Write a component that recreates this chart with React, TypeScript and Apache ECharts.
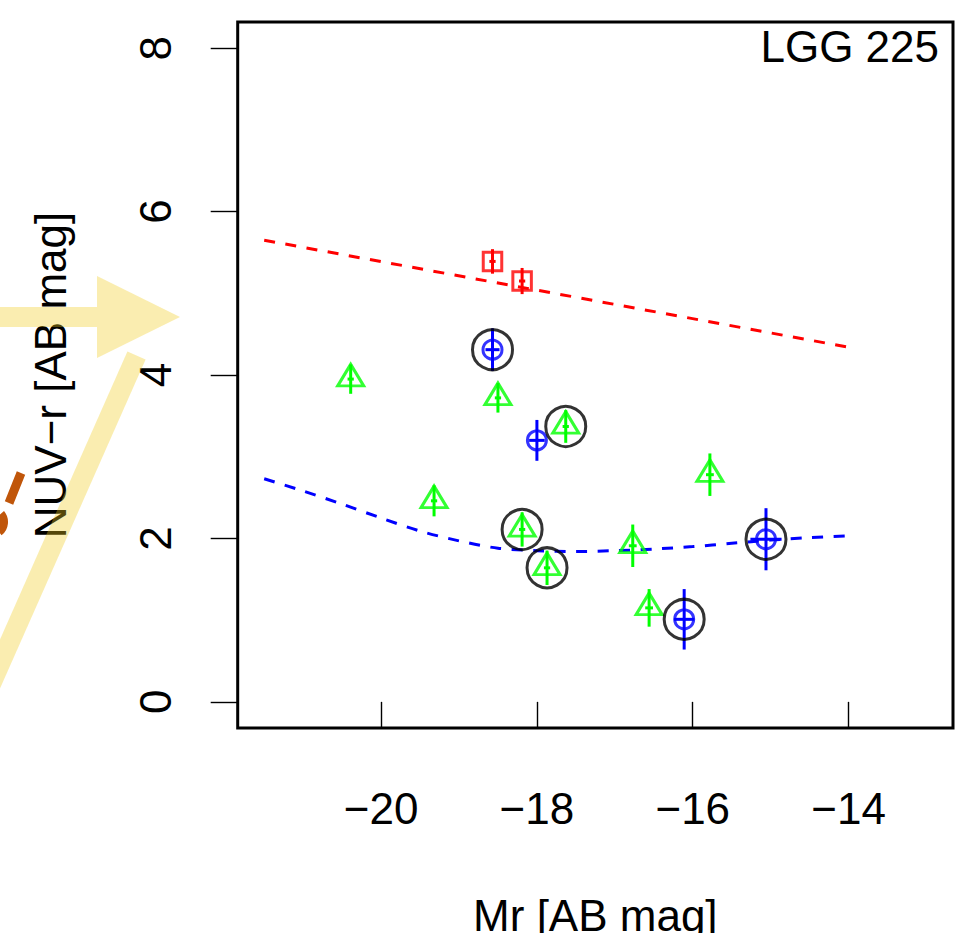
import React, { useEffect, useRef } from "react";
import * as echarts from "echarts";

// ---- data ----
const xTicks = [-20, -18, -16, -14];
const yTicks = [0, 2, 4, 6, 8];

const redX = [-18.57, -18.19];
const redY = [5.39, 5.15];
const redErrX = [0.04, 0.04];
const redErrY = [0.15, 0.16];

const blueX = [-18.57, -18.0, -16.11, -15.06];
const blueY = [4.31, 3.2, 1.01, 1.99];
const blueErrX = [0.09, 0.1, 0.13, 0.2];
const blueErrY = [0.26, 0.25, 0.37, 0.38];

const greenX = [-20.39, -18.5, -17.63, -19.32, -18.19, -17.87, -16.77, -16.56, -15.78];
const greenY = [3.95, 3.72, 3.37, 2.46, 2.11, 1.64, 1.91, 1.15, 2.78];
const greenErrX = [0.04, 0.04, 0.04, 0.04, 0.04, 0.04, 0.05, 0.05, 0.05];
const greenErrY = [0.18, 0.18, 0.2, 0.19, 0.21, 0.21, 0.26, 0.23, 0.26];

const circledX = [-18.57, -16.11, -15.06, -17.63, -18.19, -17.87];
const circledY = [4.31, 1.01, 1.99, 3.37, 2.11, 1.64];

const redLineX = [-21.5, -14.0];
const redLineY = [5.65, 4.34];

const blueLineX = [-21.5, -21.0, -20.5, -20.0, -19.5, -19.0, -18.5, -18.0, -17.5, -17.0, -16.5, -16.0, -15.5, -15.0, -14.5, -14.0];
const blueLineY = [2.73, 2.58, 2.42, 2.25, 2.09, 1.97, 1.88, 1.85, 1.84, 1.85, 1.87, 1.9, 1.94, 1.98, 2.01, 2.03];

const RED = "#FF0000";
const BLUE = "#0000FF";
const GREEN = "#00FF00";
const FONT = "Liberation Sans";
const LW = 3;

const fmt = (v: number) => (v < 0 ? "\u2212" : "") + Math.abs(v);

function errSeries(xs: number[], ys: number[], ex: number[], ey: number[], color: string) {
  return {
    type: "custom",
    encode: { x: 0, y: 1 },
    data: xs.map((x, i) => [x, ys[i], ex[i], ey[i]]),
    z: 3,
    renderItem: (params: any, api: any) => {
      const x = api.value(0);
      const y = api.value(1);
      const dx = api.value(2);
      const dy = api.value(3);
      const a = api.coord([x, y - dy]);
      const b = api.coord([x, y + dy]);
      const c = api.coord([x - dx, y]);
      const d = api.coord([x + dx, y]);
      return {
        type: "group",
        children: [
          { type: "line", shape: { x1: a[0], y1: a[1], x2: b[0], y2: b[1] }, style: { stroke: color, lineWidth: LW } },
          { type: "line", shape: { x1: c[0], y1: c[1], x2: d[0], y2: d[1] }, style: { stroke: color, lineWidth: LW } },
        ],
      };
    },
  };
}

export default function App() {
  const ref = useRef<HTMLDivElement>(null);
  useEffect(() => {
    if (!ref.current) return;
    const chart = echarts.init(ref.current, null, { renderer: "svg" });
    const yellow = { fill: "rgb(241,204,29)", opacity: 0.35 };
    chart.setOption({
      animation: false,
      backgroundColor: "#fff",
      title: {
        text: "LGG 225",
        right: 12,
        top: 19,
        textStyle: { fontFamily: FONT, fontSize: 44, fontWeight: "normal", color: "#000" },
      },
      grid: {
        left: 237.7,
        top: 22,
        right: 3,
        bottom: 205,
        outerBoundsMode: "none",
        containLabel: false,
        show: true,
        borderColor: "#000",
        borderWidth: LW,
        backgroundColor: "transparent",
      },
      xAxis: {
        type: "value",
        min: -21.84,
        max: -12.66,
        name: "Mr [AB mag]",
        nameLocation: "middle",
        nameGap: 165,
        nameTextStyle: { fontFamily: FONT, fontSize: 44, color: "#000" },
        axisLine: { show: false },
        splitLine: { show: false },
        axisTick: { show: true, customValues: xTicks, length: 27, lineStyle: { color: "#000", width: 1.4 } },
        axisLabel: { customValues: xTicks, formatter: fmt, fontFamily: FONT, fontSize: 44, color: "#000", margin: 58 },
      },
      yAxis: {
        type: "value",
        min: -0.32,
        max: 8.32,
        name: "NUV\u2212r [AB mag]",
        nameLocation: "middle",
        nameGap: 165,
        nameRotate: 90,
        nameTextStyle: { fontFamily: FONT, fontSize: 44, color: "#000" },
        axisLine: { show: false },
        splitLine: { show: false },
        axisTick: { show: true, customValues: yTicks, length: 27, lineStyle: { color: "#000", width: 1.4 } },
        axisLabel: { customValues: yTicks, formatter: fmt, rotate: 90, fontFamily: FONT, fontSize: 44, color: "#000", margin: 60 },
      },
      graphic: [
        { type: "rect", z: 100, shape: { x: -10, y: 307, width: 107, height: 20 }, style: yellow },
        { type: "polygon", z: 100, shape: { points: [[97, 276], [180, 317], [97, 358]] }, style: yellow },
        { type: "polygon", z: 100, shape: { points: [[127.4, 351.5], [145.6, 359.6], [-33.4, 764], [-51.6, 756]] }, style: yellow },
        { type: "line", z: 99, shape: { x1: 21, y1: 473, x2: 9, y2: 503 }, style: { stroke: "#C0560A", lineWidth: 9 } },
        { type: "arc", z: 99, shape: { cx: -9, cy: 522, r: 13, startAngle: -0.7, endAngle: 0.9 }, style: { stroke: "#C0560A", lineWidth: 8, fill: "none" } },
      ],
      series: [
        {
          type: "line",
          data: redLineX.map((x, i) => [x, redLineY[i]]),
          symbol: "none",
          lineStyle: { color: RED, width: 3, type: [11, 10.5] },
          z: 2,
        },
        {
          type: "line",
          data: blueLineX.map((x, i) => [x, blueLineY[i]]),
          symbol: "none",
          smooth: 0.3,
          lineStyle: { color: BLUE, width: 3, type: [11, 10.5] },
          z: 2,
        },
        errSeries(redX, redY, redErrX, redErrY, RED),
        errSeries(blueX, blueY, blueErrX, blueErrY, BLUE),
        errSeries(greenX, greenY, greenErrX, greenErrY, GREEN),
        {
          type: "scatter",
          data: redX.map((x, i) => [x, redY[i]]),
          symbol: "rect",
          symbolSize: 18.5,
          itemStyle: { color: "rgba(0,0,0,0)", borderColor: RED, borderWidth: LW },
          z: 4,
        },
        {
          type: "scatter",
          data: blueX.map((x, i) => [x, blueY[i]]),
          symbol: "circle",
          symbolSize: 19,
          itemStyle: { color: "rgba(0,0,0,0)", borderColor: BLUE, borderWidth: LW },
          z: 4,
        },
        {
          type: "scatter",
          data: greenX.map((x, i) => [x, greenY[i]]),
          symbol: "triangle",
          symbolSize: [26, 21.5],
          symbolOffset: [0, -4],
          itemStyle: { color: "rgba(0,0,0,0)", borderColor: GREEN, borderWidth: LW },
          z: 4,
        },
        {
          type: "scatter",
          data: circledX.map((x, i) => [x, circledY[i]]),
          symbol: "circle",
          symbolSize: 40,
          itemStyle: { color: "rgba(0,0,0,0)", borderColor: "#000", borderWidth: LW },
          z: 5,
        },
      ],
    });
    return () => chart.dispose();
  }, []);
  return <div ref={ref} style={{ position: "fixed", left: 0, top: 0, width: 956, height: 933 }} />;
}
